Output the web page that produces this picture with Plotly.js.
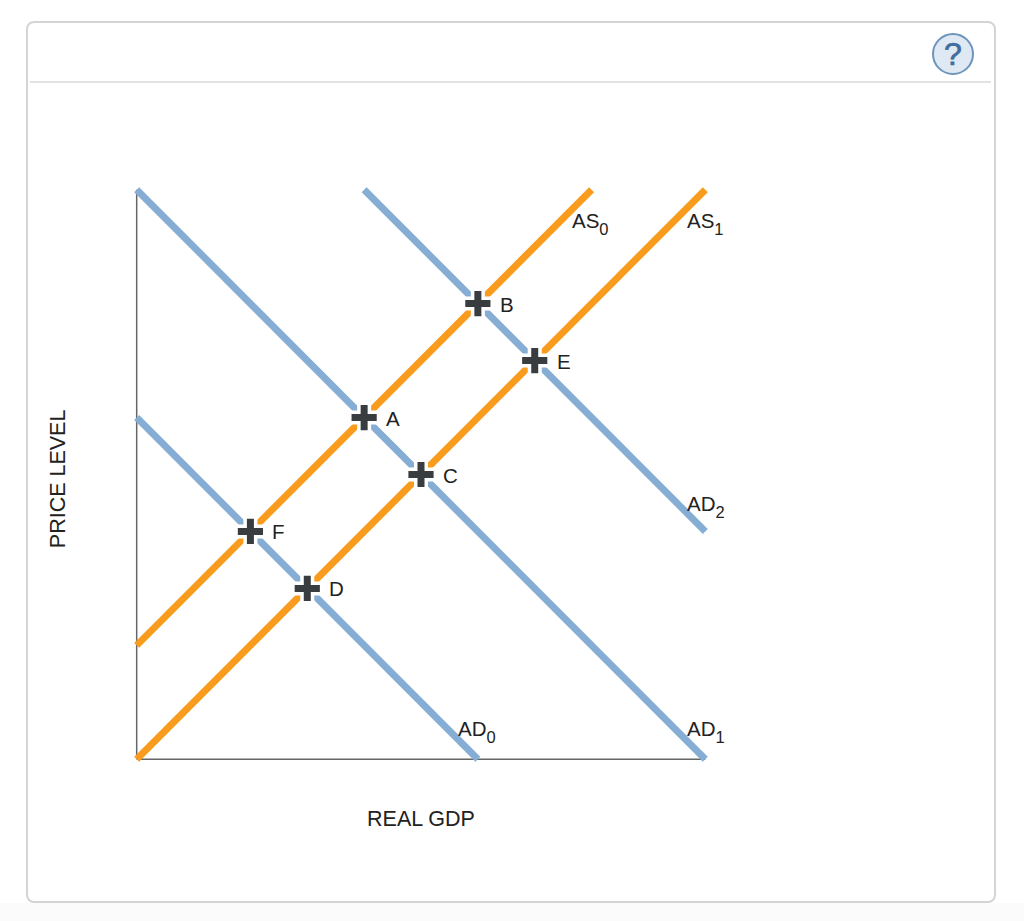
<!DOCTYPE html>
<html>
<head>
<meta charset="utf-8">
<script src="https://cdn.plot.ly/plotly-3.0.1.min.js"></script>
<style>
html,body{margin:0;padding:0;width:1024px;height:921px;overflow:hidden;background:#fff;font-family:"Liberation Sans",Arial,sans-serif}
#strip{position:absolute;left:0;top:903px;width:1024px;height:18px;background:#fbfbfb}
#card{position:absolute;left:26px;top:21px;width:966px;height:878px;border:2px solid #d4d4d4;border-radius:8px;background:#fff}
#rule{position:absolute;left:30px;top:81px;width:961px;height:2px;background:#e2e2e2}
#help{position:absolute;left:932px;top:33px;width:38px;height:38px;border:2.5px solid #6d94bd;border-radius:50%;background:#dfe9f3;color:#3f6d9e;font:normal 32px/39px "Liberation Sans",Arial,sans-serif;-webkit-text-stroke:0.7px #3f6d9e;text-align:center}
#chart{position:absolute;left:0;top:0;width:1024px;height:921px}
</style>
</head>
<body>
<div id="strip"></div>
<div id="card"></div>
<div id="rule"></div>
<div id="help">?</div>
<div id="chart"></div>
<script>
const blue = '#86add4', orange = '#f99b1c', dark = '#3a3d40', axisGrey = '#666';

const ad0X = [0, 6],  ad0Y = [6, 0];
const ad1X = [0, 10], ad1Y = [10, 0];
const ad2X = [4, 10], ad2Y = [10, 4];
const as0X = [0, 8],  as0Y = [2, 10];
const as1X = [0, 10], as1Y = [0, 10];
const vAxisX = [0, 0],  vAxisY = [0, 10];
const hAxisX = [0, 10], hAxisY = [0, 0];

const pointNames = ['A', 'B', 'C', 'D', 'E', 'F'];
const pointX = [4, 6, 5, 3, 7, 2];
const pointY = [6, 8, 5, 3, 7, 4];

const sub = n => '<sub><sub><span style="font-size:16.5px">' + n + '</span></sub></sub>';
const curveNames = ['AS' + sub(0), 'AS' + sub(1), 'AD' + sub(0), 'AD' + sub(1), 'AD' + sub(2)];
const curveLabelX = [7.62, 9.64, 5.61, 9.64, 9.64];
const curveLabelY = [9.41, 9.41, 0.48, 0.48, 4.445];

const line = (x, y, color, width) => ({x, y, mode: 'lines', type: 'scatter', cliponaxis: false,
  hoverinfo: 'skip', line: {color, width}});

const data = [
  line(vAxisX, vAxisY, axisGrey, 1.5),
  line(hAxisX, hAxisY, axisGrey, 1.5),
  line(ad0X, ad0Y, blue, 7),
  line(ad1X, ad1Y, blue, 7),
  line(ad2X, ad2Y, blue, 7),
  line(as0X, as0Y, orange, 7),
  line(as1X, as1Y, orange, 7),
  {x: pointX, y: pointY, mode: 'markers', type: 'scatter', cliponaxis: false, hoverinfo: 'skip',
   marker: {symbol: 'cross-thin', size: 22, color: '#fff', line: {color: '#fff', width: 14}}},
  {x: pointX, y: pointY, mode: 'markers', type: 'scatter', cliponaxis: false, hoverinfo: 'skip',
   marker: {symbol: 'cross-thin', size: 18, color: dark, line: {color: dark, width: 7}}}
];

const labelFont = {family: '"Liberation Sans", Arial, sans-serif', size: 20.5, color: '#222'};
const titleFont = {family: '"Liberation Sans", Arial, sans-serif', size: 21.5, color: '#222'};

const annotations = pointNames.map((t, i) => ({
  x: pointX[i], y: pointY[i], text: t, showarrow: false, xanchor: 'left', yanchor: 'middle',
  xshift: 20, yshift: -0.5, font: labelFont
})).concat(curveNames.map((t, i) => ({
  x: curveLabelX[i], y: curveLabelY[i], text: t, showarrow: false, xanchor: 'left', yanchor: 'middle',
  font: labelFont
}))).concat([{
  xref: 'paper', yref: 'paper', x: -0.1265, y: 0.493, text: 'PRICE LEVEL', showarrow: false, textangle: -90,
  xanchor: 'center', yanchor: 'middle', font: titleFont
}]);

const axis = {range: [-0.1, 10.1], showgrid: false, zeroline: false, showticklabels: false, ticks: '',
  showline: false, fixedrange: true};

const layout = {
  width: 1024, height: 921,
  margin: {l: 131.3, r: 313.3, t: 184.3, b: 156.3, pad: 0},
  paper_bgcolor: 'rgba(0,0,0,0)', plot_bgcolor: 'rgba(0,0,0,0)',
  showlegend: false,
  xaxis: Object.assign({}, axis, {title: {text: 'REAL GDP', font: titleFont, standoff: 45}}),
  yaxis: axis,
  annotations
};

Plotly.newPlot('chart', data, layout, {displayModeBar: false, staticPlot: true});
</script>
</body>
</html>
